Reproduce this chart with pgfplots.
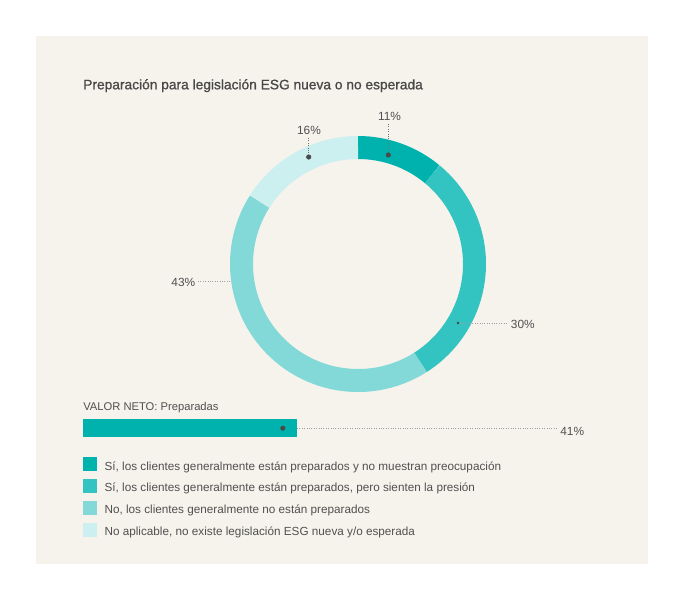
\documentclass[border=0pt]{standalone}
\usepackage{pgfplots}
\pgfplotsset{compat=1.18}
\usepackage{pgfplotstable}
\usepackage{fontspec}
\setmainfont{Liberation Sans}
\newfontfamily\titlefont[FakeBold=0.9]{Liberation Sans}

\definecolor{c1}{HTML}{00B2AE}
\definecolor{c2}{HTML}{33C3C0}
\definecolor{c3}{HTML}{82D9D8}
\definecolor{c4}{HTML}{CCEFEF}
\definecolor{bg}{HTML}{F6F3EC}
\definecolor{txt}{HTML}{505050}
\definecolor{ttl}{HTML}{484848}
\definecolor{dotc}{HTML}{4A4A4A}
\definecolor{lead}{HTML}{A0A0A0}

% share of answers, clockwise from 12 o'clock
\pgfplotstableread{
share
11
30
43
16
}\donut

\begin{document}
\begin{tikzpicture}
\pgfplotstablegetelem{0}{share}\of\donut \pgfmathsetmacro\aA{90-3.6*\pgfplotsretval}
\pgfplotstablegetelem{1}{share}\of\donut \pgfmathsetmacro\aB{\aA-3.6*\pgfplotsretval}
\pgfplotstablegetelem{2}{share}\of\donut \pgfmathsetmacro\aC{\aB-3.6*\pgfplotsretval}
\pgfplotstablegetelem{3}{share}\of\donut \pgfmathsetmacro\aD{\aC-3.6*\pgfplotsretval}
\def\rmid{87.375pt}
\tikzset{
  ring/.style={line width=17.25pt},
  lbl/.style={font=\fontsize{8.9}{10}\selectfont, text=txt, inner sep=0pt},
  leg/.style={font=\fontsize{8.8}{10}\selectfont, text=txt, inner sep=0pt, anchor=base west},
  leader/.style={lead, line width=0.6pt, dash pattern=on 0.6pt off 1.2pt},
}

% canvas in pixel units (1px = 0.75pt), y downwards
\begin{axis}[
    at={(0,0)}, anchor=south west,
    scale only axis, width=513pt, height=450pt,
    xmin=0, xmax=684, ymin=0, ymax=600, y dir=reverse,
    hide axis, clip=false
  ]
  \fill[white] (axis cs:0,0) rectangle (axis cs:684,600);
  \fill[bg] (axis cs:36,36) rectangle (axis cs:648,564);

  \node[anchor=base west, inner sep=0pt, font=\titlefont\fontsize{10.32}{12}\selectfont, text=ttl]
    at (axis cs:83,89.3) {Preparación para legislación ESG nueva o no esperada};

  % donut
  \draw[ring, c1] ([shift={(90:\rmid)}]axis cs:358,264) arc[start angle=90, end angle=\aA, radius=\rmid];
  \draw[ring, c2] ([shift={(\aA:\rmid)}]axis cs:358,264) arc[start angle=\aA, end angle=\aB, radius=\rmid];
  \draw[ring, c3] ([shift={(\aB:\rmid)}]axis cs:358,264) arc[start angle=\aB, end angle=\aC, radius=\rmid];
  \draw[ring, c4] ([shift={(\aC:\rmid)}]axis cs:358,264) arc[start angle=\aC, end angle=\aD, radius=\rmid];

  % leaders
  \addplot[leader, lead!70!black] coordinates {(388.3,124) (388.3,155)};
  \addplot[leader, lead!70!black] coordinates {(308.7,138) (308.7,157)};
  \addplot[leader] coordinates {(458,323) (508,323)};
  \addplot[leader] coordinates {(198,281.7) (230,281.7)};
  \addplot[only marks, mark=*, mark size=1.7pt, dotc] coordinates {(388.3,155) (308.7,157)};
  \addplot[only marks, mark=*, mark size=0.8pt, dotc] coordinates {(458,323)};

  \node[lbl, anchor=base] at (axis cs:389.5,120.3) {11\%};
  \node[lbl, anchor=base] at (axis cs:309,134) {16\%};
  \node[lbl, anchor=base west] at (axis cs:510.7,328.7) {30\%};
  \node[lbl, anchor=base west] at (axis cs:171.2,286) {43\%};

  \node[lbl, anchor=base west, font=\fontsize{8.4}{10}\selectfont] at (axis cs:83,410.7) {VALOR NETO: Preparadas};

  % legend
  \fill[c1] (axis cs:82.5,457) rectangle (axis cs:96.5,471);
  \fill[c2] (axis cs:82.5,479) rectangle (axis cs:96.5,493);
  \fill[c3] (axis cs:82.5,501) rectangle (axis cs:96.5,515);
  \fill[c4] (axis cs:82.5,523) rectangle (axis cs:96.5,537);
  \node[leg] at (axis cs:104.3,470) {Sí, los clientes generalmente están preparados y no muestran preocupación};
  \node[leg] at (axis cs:104.3,491.7) {Sí, los clientes generalmente están preparados, pero sienten la presión};
  \node[leg] at (axis cs:104.3,513.3) {No, los clientes generalmente no están preparados};
  \node[leg] at (axis cs:104.3,535) {No aplicable, no existe legislación ESG nueva y/o esperada};
\end{axis}

% net value bar, 0..100 %
\begin{axis}[
    at={(61.9pt,121.9pt)}, anchor=south west,
    scale only axis, width=392.25pt, height=13.9pt,
    xmin=0, xmax=100, ymin=0, ymax=1,
    hide axis, clip=false
  ]
  \addplot[xbar, bar width=13.9pt, fill=c1, draw=none] coordinates {(41,0.5)};
  \addplot[leader] coordinates {(41,0.5) (90.6,0.5)};
  \addplot[only marks, mark=*, mark size=1.7pt, dotc] coordinates {(38.3,0.5)};
  \node[lbl, anchor=base west] at (axis cs:91.3,0.09) {41\%};
\end{axis}
\end{tikzpicture}
\end{document}
